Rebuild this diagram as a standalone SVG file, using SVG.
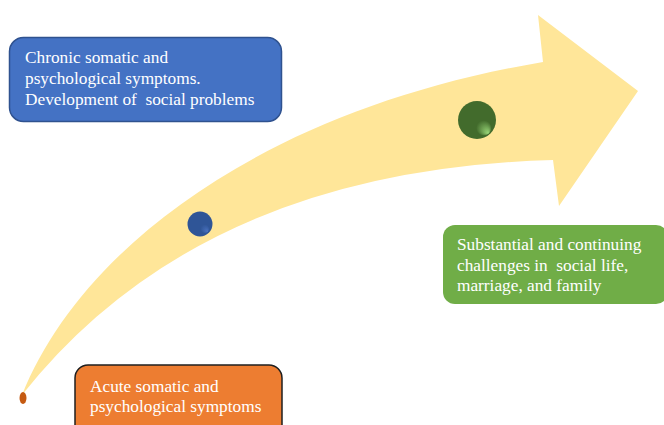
<svg xmlns="http://www.w3.org/2000/svg" width="664" height="425" viewBox="0 0 664 425">
<style>
text{font-family:"Liberation Serif","Times New Roman",serif;font-size:17.3px;fill:#ffffff;white-space:pre}
</style>
<defs>
<radialGradient id="gBlue" cx="0.5" cy="0.5" r="0.5" fx="0.8" fy="0.8">
<stop offset="0" stop-color="#4A72C0"/>
<stop offset="0.35" stop-color="#2F5597"/>
<stop offset="1" stop-color="#2F5597"/>
</radialGradient>
<radialGradient id="gGreen" cx="0.5" cy="0.5" r="0.5" fx="0.8" fy="0.85">
<stop offset="0" stop-color="#9BD97A"/>
<stop offset="0.4" stop-color="#426B2C"/>
<stop offset="1" stop-color="#426B2C"/>
</radialGradient>
</defs>
<g id="arrow">
<path d="M22,395 C80,250 260,110 543,62 L538,15 L638,91 L559,206 L553,160 Q200,170 22,395 Z" fill="#FFE699"/>
</g>
<g id="dot-start"><ellipse cx="23" cy="398" rx="3.5" ry="6" fill="#C55A11"/></g>
<g id="dot-mid"><circle cx="200" cy="224" r="12.5" fill="url(#gBlue)"/></g>
<g id="dot-end"><circle cx="477" cy="120" r="19" fill="url(#gGreen)"/></g>
<g id="chronic">
<rect x="9.5" y="37.5" width="272" height="84" rx="14" fill="#4472C4" stroke="#2F528F" stroke-width="1.5"/>
<text x="25" y="63">Chronic somatic and</text>
<text x="25" y="84">psychological symptoms.</text>
<text x="25" y="104.5">Development of  social problems</text>
</g>
<g id="acute">
<rect x="75" y="365" width="207" height="75" rx="13" fill="#ED7D31" stroke="#1F1F1F" stroke-width="1.5"/>
<text x="90" y="392">Acute somatic and</text>
<text x="90" y="412">psychological symptoms</text>
</g>
<g id="substantial">
<rect x="443" y="225" width="225" height="79" rx="12" fill="#70AD47"/>
<text x="457" y="250">Substantial and continuing</text>
<text x="457" y="270.5">challenges in  social life,</text>
<text x="457" y="291">marriage, and family</text>
</g>
<g id="connectors"></g>
</svg>
